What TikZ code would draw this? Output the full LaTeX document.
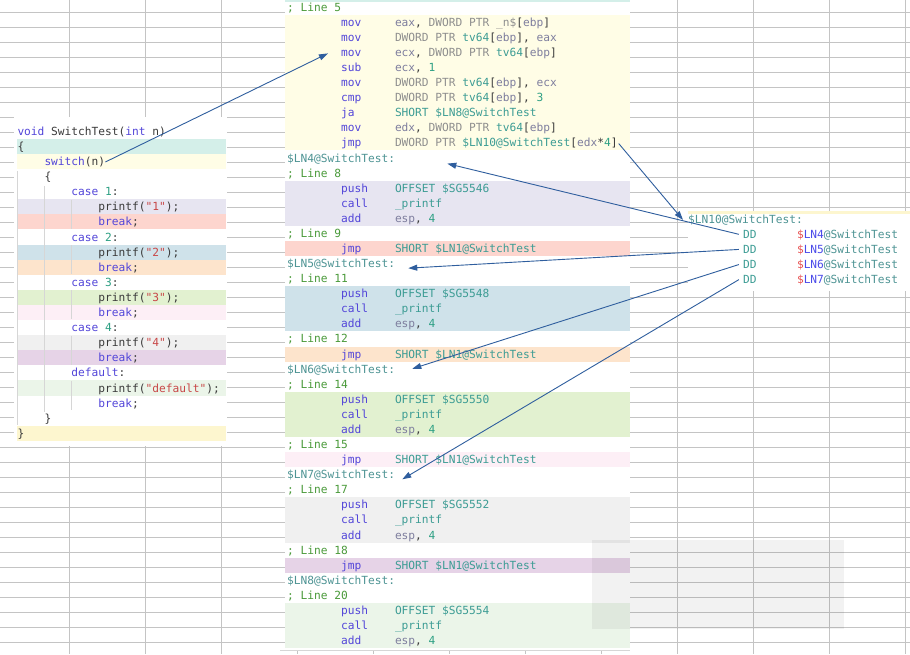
\documentclass[tikz,border=0pt]{standalone}
\usepackage{fontspec}
\setmonofont{DejaVu Sans Mono}
\usetikzlibrary{arrows.meta}

\definecolor{gridc}{HTML}{C4C4C4}
\definecolor{guidec}{HTML}{D6D6D6}
\definecolor{kwc}{HTML}{5346D9}
\definecolor{cmc}{HTML}{4A9A3A}
\definecolor{lbc}{HTML}{4E9494}
\definecolor{idc}{HTML}{3C9C94}
\definecolor{rgc}{HTML}{7E7E9E}
\definecolor{ptc}{HTML}{8E8E8E}
\definecolor{nmc}{HTML}{2EA084}
\definecolor{pnc}{HTML}{3A3A3A}
\definecolor{stc}{HTML}{C84848}
\definecolor{dlc}{HTML}{E85050}
\definecolor{lnc}{HTML}{4A4AEA}
\definecolor{arrc}{HTML}{2F5E9E}
% row colours
\definecolor{bTeal}{HTML}{D4EFE9}
\definecolor{bYel}{HTML}{FFFDE6}
\definecolor{bLav}{HTML}{E7E5F1}
\definecolor{bRed}{HTML}{FDD5CE}
\definecolor{bBlu}{HTML}{CFE2EA}
\definecolor{bOra}{HTML}{FDE4CC}
\definecolor{bGrn}{HTML}{E2F1D0}
\definecolor{bPnk}{HTML}{FDEFF6}
\definecolor{bGry}{HTML}{F0F0F0}
\definecolor{bPur}{HTML}{E6D3E7}
\definecolor{bMnt}{HTML}{EBF5E9}
\definecolor{bSnd}{HTML}{FDF6CF}

\newcommand{\kwd}[1]{\textcolor{kwc}{#1}}
\newcommand{\reg}[1]{\textcolor{rgc}{#1}}
\newcommand{\ptr}[1]{\textcolor{ptc}{#1}}
\newcommand{\ids}[1]{\textcolor{idc}{#1}}
\newcommand{\nmb}[1]{\textcolor{nmc}{#1}}
\newcommand{\strg}[1]{\textcolor{stc}{#1}}

\tikzset{
  code/.style={anchor=base west, inner sep=0pt,
    font=\fontsize{11.2}{13}\selectfont\ttfamily, text=pnc},
  grid line/.style={draw=gridc, line width=0.9pt},
  guide/.style={draw=guidec, line width=0.8pt},
  jump/.style={draw=arrc, line width=0.9pt, -{Triangle[length=9pt,width=6pt]}},
}

\begin{document}
\begin{tikzpicture}[x=1pt,y=-1pt]
  \useasboundingbox (0,0) rectangle (910,654);
  \fill[white] (0,0) rectangle (910,654);

  % sheet grid
  \foreach \k in {0,...,42}
    \draw[grid line] (0,{12.4+15*\k}) -- (910,{12.4+15*\k});
  \foreach \k in {0,...,11}
    \draw[grid line] ({69+76*\k},0) -- ({69+76*\k},654);

  % panels
  \fill[white] (14,117) rectangle (227,446);
  \fill[white] (285,0) rectangle (630,650);
  \fill[white] (688,211) rectangle (910,291);
  \fill[bTeal] (285,0) rectangle (630,1.5);
  \fill[bSnd] (688,211) rectangle (910,213.5);
  \draw[gridc!70, line width=0.8pt] (280,650.7) -- (630,650.7);

  % C source
  \foreach \j/\c in {1/bTeal,2/bYel,5/bLav,6/bRed,8/bBlu,9/bOra,11/bGrn,
                     12/bPnk,14/bGry,15/bPur,17/bMnt,20/bSnd}
    \fill[\c] (17,{131.3+15.1*\j-7.55}) rectangle (226,{131.3+15.1*\j+7.55});
  \draw[guide] (17,171) -- (17,425);
  \draw[guide] (44.5,186) -- (44.5,412);
  \foreach \j in {4,7,10,13,16}
    \draw[guide] (71.5,{131.3+15.1*\j+8}) -- (71.5,{131.3+15.1*\j+37});

  \node[code] (fn) at (17.3,135.3) {\kwd{void} SwitchTest(\kwd{int} n)};
  \node[code] (ob) at (17.3,150.4) {\{};
  \node[code] (sw) at (44.3,165.5) {\kwd{switch}(n)};
  \node[code] (ib) at (44.3,180.6) {\{};
  \foreach \j/\n in {4/1,7/2,10/3,13/4}{
    \node[code] (case\n) at (71.2,{135.3+15.1*\j}) {\kwd{case} \nmb{\n}:};
    \node[code] (pf\n) at (98.2,{135.3+15.1*(\j+1)}) {printf(\strg{"\n"});};
    \node[code] (br\n) at (98.2,{135.3+15.1*(\j+2)}) {\kwd{break};};
  }
  \node[code] (dflt) at (71.2,{135.3+15.1*16}) {\kwd{default}:};
  \node[code] (pfd) at (98.2,{135.3+15.1*17}) {printf(\strg{"default"});};
  \node[code] (brd) at (98.2,{135.3+15.1*18}) {\kwd{break};};
  \node[code] (ic) at (44.3,{135.3+15.1*19}) {\}};
  \node[code] (oc) at (17.3,{135.3+15.1*20}) {\}};

  % listing
  \foreach \a/\b/\c in {1/9/bYel,12/14/bLav,16/16/bRed,19/21/bBlu,23/23/bOra,
                        26/28/bGrn,30/30/bPnk,33/35/bGry,37/37/bPur,40/42/bMnt}
    \fill[\c] (285,{7.2+15.08*\a-7.54}) rectangle (630,{7.2+15.08*\b+7.54});

  \foreach \i/\n in {0/5,11/8,15/9,18/11,22/12,25/14,29/15,32/17,36/18,39/20}
    \node[code, text=cmc] (cm\i) at (287,{11.2+15.08*\i}) {; Line \n};
  \foreach \i/\n in {10/4,17/5,24/6,31/7,38/8}
    \node[code, text=lbc] (ln\n) at (287,{11.2+15.08*\i}) {\$LN\n@SwitchTest:};

  \foreach \i/\m/\o in {
      1/mov/{\reg{eax}, \ptr{DWORD PTR \_n\$}[\reg{ebp}]},
      2/mov/{\ptr{DWORD PTR} \ids{tv64}[\reg{ebp}], \reg{eax}},
      3/mov/{\reg{ecx}, \ptr{DWORD PTR} \ids{tv64}[\reg{ebp}]},
      4/sub/{\reg{ecx}, \nmb{1}},
      5/mov/{\ptr{DWORD PTR} \ids{tv64}[\reg{ebp}], \reg{ecx}},
      6/cmp/{\ptr{DWORD PTR} \ids{tv64}[\reg{ebp}], \nmb{3}},
      7/ja/{\ids{SHORT \$LN8@SwitchTest}},
      8/mov/{\reg{edx}, \ptr{DWORD PTR} \ids{tv64}[\reg{ebp}]},
      9/jmp/{\ptr{DWORD PTR} \ids{\$LN10@SwitchTest}[\reg{edx}*\nmb{4}]}}{
    \node[code, text=kwc] (mn\i) at (340.9,{11.2+15.08*\i}) {\m};
    \node[code] (op\i) at (394.8,{11.2+15.08*\i}) {\o};
  }
  \foreach \i/\s in {12/5546,19/5548,26/5550,33/5552,40/5554}{
    \pgfmathtruncatemacro\ii{\i+1}
    \pgfmathtruncatemacro\iii{\i+2}
    \node[code, text=kwc] (mn\i) at (340.9,{11.2+15.08*\i}) {push};
    \node[code] (op\i) at (394.8,{11.2+15.08*\i}) {\ids{OFFSET \$SG\s}};
    \node[code, text=kwc] (mn\ii) at (340.9,{11.2+15.08*\ii}) {call};
    \node[code] (op\ii) at (394.8,{11.2+15.08*\ii}) {\ids{\_printf}};
    \node[code, text=kwc] (mn\iii) at (340.9,{11.2+15.08*\iii}) {add};
    \node[code] (op\iii) at (394.8,{11.2+15.08*\iii}) {\reg{esp}, \nmb{4}};
  }
  \foreach \i in {16,23,30,37}{
    \node[code, text=kwc] (mn\i) at (340.9,{11.2+15.08*\i}) {jmp};
    \node[code] (op\i) at (394.8,{11.2+15.08*\i}) {\ids{SHORT \$LN1@SwitchTest}};
  }

  % jump table
  \node[code, text=lbc] (ln10) at (688,223.3) {\$LN10@SwitchTest:};
  \foreach \j in {1,...,4}{
    \pgfmathtruncatemacro\m{\j+3}
    \node[code, text=idc] (dd\j) at (742.9,{223.3+15.1*\j}) {DD};
    \node[code] (tg\j) at (796.8,{223.3+15.1*\j})
      {\textcolor{dlc}{\$}\textcolor{lnc}{LN\m}\textcolor{lbc}{@SwitchTest}};
  }

  % arrows
  \coordinate (to3) at ([xshift=-13pt]mn3.west);
  \coordinate (in4) at ([xshift=52pt,yshift=-5pt]ln4.east);
  \coordinate (in5) at ([xshift=13pt,yshift=-4pt]ln5.east);
  \coordinate (in6) at ([xshift=17pt,yshift=1pt]ln6.east);
  \coordinate (in7) at ([xshift=7pt,yshift=-4pt]ln7.east);
  \draw[jump] (sw.east) -- (to3);
  \draw[jump] ([xshift=1pt]op9.east) -- ([xshift=-5pt]ln10.west);
  \draw[jump] ([xshift=-4pt]dd1.west) -- (in4);
  \draw[jump] ([xshift=-4pt]dd2.west) -- (in5);
  \draw[jump] ([xshift=-4pt]dd3.west) -- (in6);
  \draw[jump] ([xshift=-4pt]dd4.west) -- (in7);

  \fill[black, opacity=0.05] (592,540) rectangle (844,629);
\end{tikzpicture}
\end{document}
